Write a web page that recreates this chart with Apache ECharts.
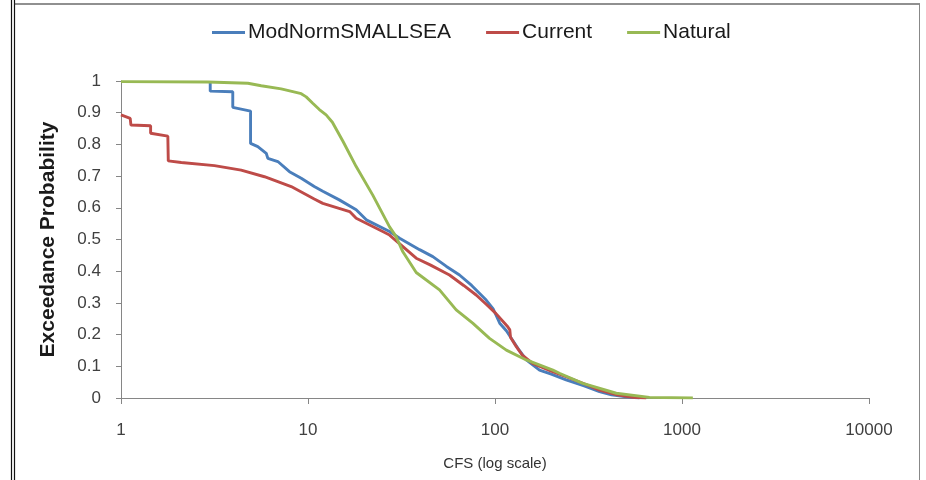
<!DOCTYPE html>
<html>
<head>
<meta charset="utf-8">
<script src="https://cdn.jsdelivr.net/npm/echarts@6/dist/echarts.min.js"></script>
<style>
html,body{margin:0;padding:0;background:#fff;}
#chart{width:926px;height:480px;}
</style>
</head>
<body>
<div id="chart"></div>
<script>
// Series names
const seriesNames = ['ModNormSMALLSEA', 'Current', 'Natural'];

// ModNormSMALLSEA (CFS, exceedance probability)
const modX = [3.0, 3.0, 3.96, 3.96, 4.93, 4.93, 5.39, 5.98, 6.1, 6.9, 7.96, 9.2, 10.8, 12.0, 14.7, 18.1, 20.5, 27.3, 30.9, 39.5, 46.5, 55, 64.6, 75, 89.7, 98, 106, 115, 124, 135, 147, 173, 200, 240, 300, 362, 420, 503, 593];
const modP = [1.0, 0.968, 0.966, 0.917, 0.905, 0.803, 0.793, 0.772, 0.756, 0.746, 0.714, 0.693, 0.667, 0.652, 0.625, 0.594, 0.562, 0.525, 0.504, 0.468, 0.446, 0.415, 0.388, 0.355, 0.309, 0.28, 0.236, 0.212, 0.183, 0.15, 0.12, 0.088, 0.075, 0.057, 0.038, 0.02, 0.01, 0.004, 0.0];

// Current
const curX = [1.0, 1.12, 1.13, 1.44, 1.44, 1.78, 1.79, 2.1, 3.16, 4.39, 5.85, 8.13, 10.8, 12.0, 16.7, 18.1, 25.1, 27.3, 37.9, 45, 57.1, 68, 79.3, 90, 101, 117, 120, 121, 130, 140, 159, 200, 240, 300, 362, 450, 546, 644];
const curP = [0.893, 0.882, 0.861, 0.859, 0.835, 0.826, 0.748, 0.743, 0.733, 0.719, 0.698, 0.667, 0.628, 0.614, 0.588, 0.567, 0.525, 0.514, 0.441, 0.42, 0.388, 0.355, 0.325, 0.295, 0.267, 0.225, 0.215, 0.192, 0.162, 0.135, 0.109, 0.085, 0.067, 0.045, 0.025, 0.01, 0.002, 0.0];

// Natural
const natX = [1.0, 2.91, 4.77, 5.62, 7.19, 9.2, 9.78, 10.6, 11.5, 12.5, 13.5, 15.4, 18.1, 22.2, 27.3, 29.6, 32.1, 37.9, 50.5, 62, 76, 93.5, 115, 147, 204, 221, 295, 445, 670, 1143];
const natP = [0.998, 0.997, 0.993, 0.985, 0.975, 0.96, 0.95, 0.93, 0.91, 0.893, 0.87, 0.809, 0.73, 0.64, 0.54, 0.509, 0.462, 0.396, 0.341, 0.278, 0.236, 0.188, 0.151, 0.12, 0.088, 0.078, 0.046, 0.015, 0.002, 0.0];

// Axis ticks
const xTicks = [1, 10, 100, 1000, 10000];
const yTicks = [0, 0.1, 0.2, 0.3, 0.4, 0.5, 0.6, 0.7, 0.8, 0.9, 1];

const colors = ['#4A7EBB', '#BE4B48', '#98B954'];
const zip = (xs, ys) => xs.map((x, i) => [x, ys[i]]);
const seriesData = [zip(modX, modP), zip(curX, curP), zip(natX, natP)];

const FONT = '"Liberation Sans", Arial, sans-serif';
const chart = echarts.init(document.getElementById('chart'), null, {renderer: 'canvas'});

chart.setOption({
  animation: false,
  backgroundColor: '#ffffff',
  color: colors,
  textStyle: {fontFamily: FONT},
  legend: {
    top: 17,
    left: 207,
    itemGap: 35,
    itemWidth: 33,
    itemHeight: 3,
    icon: 'rect',
    textStyle: {fontSize: 21, color: '#1a1a1a', fontFamily: FONT, padding: [0, 0, 0, -2]},
    data: seriesNames
  },
  grid: {left: 121, right: 57, top: 81, bottom: 82, containLabel: false},
  xAxis: {
    type: 'log',
    logBase: 10,
    min: xTicks[0],
    max: xTicks[xTicks.length - 1],
    name: 'CFS (log scale)',
    nameLocation: 'middle',
    nameGap: 58,
    nameTextStyle: {fontSize: 15, color: '#333', fontFamily: FONT},
    axisLine: {show: true, lineStyle: {color: '#868686', width: 1}},
    axisTick: {show: true, length: 6, lineStyle: {color: '#868686'}},
    axisLabel: {fontSize: 17, color: '#404040', margin: 24, fontFamily: FONT, formatter: v => String(v)},
    splitLine: {show: false},
    minorTick: {show: false}
  },
  yAxis: {
    type: 'value',
    min: yTicks[0],
    max: yTicks[yTicks.length - 1],
    interval: 0.1,
    name: 'Exceedance Probability',
    nameLocation: 'middle',
    nameGap: 62,
    nameTextStyle: {fontSize: 21, fontWeight: 'bold', color: '#1a1a1a', fontFamily: FONT},
    axisLine: {show: true, lineStyle: {color: '#868686', width: 1}},
    axisTick: {show: true, length: 5, lineStyle: {color: '#868686'}},
    axisLabel: {fontSize: 17, color: '#404040', margin: 20, fontFamily: FONT, formatter: v => String(+v.toFixed(1))},
    splitLine: {show: false}
  },
  series: seriesNames.map((n, i) => ({
    name: n,
    type: 'line',
    data: seriesData[i],
    symbol: 'none',
    showSymbol: false,
    smooth: false,
    lineStyle: {width: 2.9, color: colors[i]},
    itemStyle: {color: colors[i]},
    z: 2 + i
  })),
  graphic: [
    {type: 'line', shape: {x1: 11.5, y1: 0, x2: 11.5, y2: 480}, style: {stroke: '#111', lineWidth: 1.2}, silent: true},
    {type: 'line', shape: {x1: 14.5, y1: 0, x2: 14.5, y2: 480}, style: {stroke: '#111', lineWidth: 1.2}, silent: true},
    {type: 'line', shape: {x1: 14, y1: 4, x2: 920, y2: 4}, style: {stroke: '#222', lineWidth: 1.2}, silent: true},
    {type: 'line', shape: {x1: 919.5, y1: 4, x2: 919.5, y2: 480}, style: {stroke: '#888', lineWidth: 1}, silent: true}
  ]
});
</script>
</body>
</html>
